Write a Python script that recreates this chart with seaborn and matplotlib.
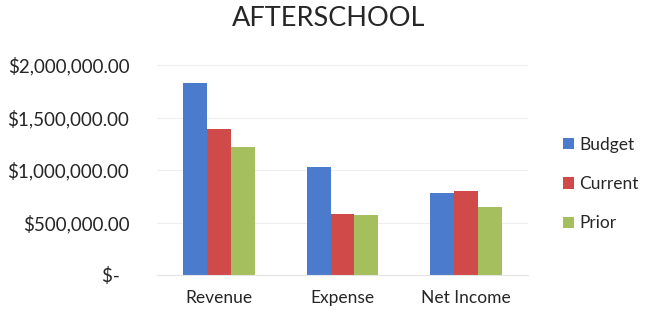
import numpy as np
import pandas as pd
import matplotlib
matplotlib.use('Agg')
import matplotlib.pyplot as plt
import seaborn as sns

categories = ['Revenue', 'Expense', 'Net Income']
series = ['Budget', 'Current', 'Prior']
budget = [1826000, 1031000, 778000]
current = [1388000, 581000, 797000]
prior = [1222000, 574000, 645000]
yticks = [0, 500000, 1000000, 1500000, 2000000]
ytick_labels = ['$-  ', '$500,000.00', '$1,000,000.00', '$1,500,000.00', '$2,000,000.00']
colors = ['#4a7bcc', '#d04a4a', '#a5bf5f']

rows = []
for name, vals in zip(series, [budget, current, prior]):
    for cat, v in zip(categories, vals):
        rows.append({'category': cat, 'series': name, 'value': v})
df = pd.DataFrame(rows)

sns.set_style('white')
plt.rcParams['font.family'] = ['Lato', 'DejaVu Sans']

fig = plt.figure(figsize=(6.45, 3.15), dpi=100)
ax = fig.add_axes([157 / 645, 40 / 315, 371 / 645, 210 / 315])

sns.barplot(data=df, x='category', y='value', hue='series', order=categories,
            hue_order=series, palette=colors, width=0.58, saturation=1,
            linewidth=0, ax=ax, legend=True)

ax.set_ylim(0, 2000000)
ax.set_xlim(-0.5, 2.5)
ax.set_yticks(yticks)
ax.set_yticklabels(ytick_labels)
ax.yaxis.grid(True, color='#eeeeee', linewidth=0.8)
ax.set_axisbelow(True)
for s in ['top', 'right', 'left']:
    ax.spines[s].set_visible(False)
ax.spines['bottom'].set_color('#e4e4e4')
ax.tick_params(axis='y', length=0, pad=20, labelsize=13.5, colors='#262626')
ax.tick_params(axis='x', length=0, pad=11, labelsize=12.5, colors='#262626')
ax.set_xlabel('')
ax.set_ylabel('')

fig.text(329 / 645, 1 - 18 / 315, 'AFTERSCHOOL', ha='center', va='center',
         fontsize=19.5, color='#262626')

leg = ax.legend(loc='center left', bbox_to_anchor=(563 / 645, 1 - 184 / 315),
                bbox_transform=fig.transFigure, frameon=False, fontsize=12.5,
                handlelength=0.65, handleheight=0.65, handletextpad=0.3,
                labelspacing=1.35, borderpad=0, borderaxespad=0,
                labelcolor='#262626')

fig.savefig('out.png', dpi=100)
